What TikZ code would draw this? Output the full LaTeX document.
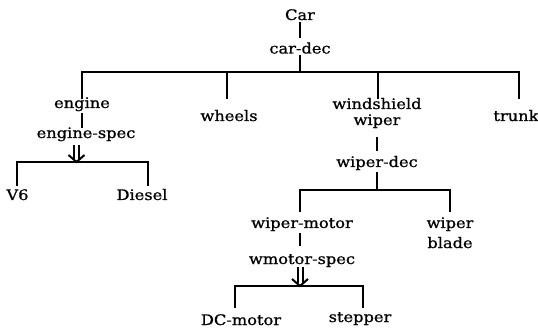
\documentclass[tikz,border=0pt]{standalone}
\usepackage{fontspec}
\setmainfont{DejaVu Serif}[FakeStretch=1.12, FakeBold=0.8]
\usetikzlibrary{calc}
\begin{document}
\begin{tikzpicture}[x=1pt,y=-1pt,
  lbl/.style={inner sep=0pt, anchor=base, font=\fontsize{14.5}{16}\selectfont},
  conn/.style={line width=2pt, line join=miter}]
\useasboundingbox (0,0) rectangle (538,331);
% nodes
\node[lbl] (car) at (300,20) {Car};
\node[lbl] (cardec) at (300,53.5) {car-dec};
\node[lbl] (engine) at (82,108) {engine};
\node[lbl] (wheels) at (229,121) {wheels};
\node[lbl] (wind1) at (377,109) {windshield};
\node[lbl] (wind2) at (377,125) {wiper};
\node[lbl] (trunk) at (516,121) {trunk};
\node[lbl] (espec) at (86,138) {engine-spec};
\node[lbl] (v6) at (17.5,200) {V6};
\node[lbl] (diesel) at (142,200) {Diesel};
\node[lbl] (wdec) at (377,167) {wiper-dec};
\node[lbl] (wmotor) at (302,228) {wiper-motor};
\node[lbl] (blade1) at (450,228) {wiper};
\node[lbl] (blade2) at (450,248) {blade};
\node[lbl] (wspec) at (302,264) {wmotor-spec};
\node[lbl] (dc) at (241,325) {DC-motor};
\node[lbl] (stepper) at (360,322) {stepper};
% junctions
\coordinate (b1) at (300,72);
\coordinate (j2) at (76.5,162);
\coordinate (b3) at (377,190);
\coordinate (j4) at (300,286);
% connectors
\draw[conn] ($(car.base)+(0,2)$) -- ($(cardec.base)+(0,-15.5)$);
\draw[conn] ($(cardec.base)+(0,1.5)$) -- (b1);
\draw[conn] (b1) -| ($(engine.base)+(0,-9)$);
\draw[conn] (b1) -| ($(wheels.base)+(-2.5,-22)$);
\draw[conn] (b1) -| ($(wind1.base)+(0.5,-10)$);
\draw[conn] (b1) -| ($(trunk.base)+(3,-22)$);
\draw[conn] ($(engine.base)+(0,5)$) -- ($(engine.base |- espec.base)+(0,-10)$);
\draw[conn] ($(espec.base -| j2)+(-2.5,7)$) -- ($(j2)+(-2.5,-3)$);
\draw[conn] ($(espec.base -| j2)+(2.5,7)$) -- ($(j2)+(2.5,-3)$);
\draw[conn] ($(j2)+(-8,-7)$) -- (j2) -- ($(j2)+(8,-7)$);
\draw[conn] ($(v6.base)+(-1,-14)$) |- (j2) -| ($(diesel.base)+(5.6,-14)$);
\draw[conn] ($(wind2.base)+(0,12)$) -- ($(wdec.base)+(0,-16)$);
\draw[conn] ($(wdec.base)+(0,5)$) -- (b3);
\draw[conn] (b3) -| ($(wmotor.base)+(-2,-16)$);
\draw[conn] (b3) -| ($(blade1.base)+(0,-16)$);
\draw[conn] ($(wmotor.base)+(-2,5)$) -- ($(wmotor.base |- wspec.base)+(-2,-18)$);
\draw[conn] ($(wspec.base -| j4)+(-2.5,3)$) -- ($(j4)+(-2.5,-3)$);
\draw[conn] ($(wspec.base -| j4)+(2.5,3)$) -- ($(j4)+(2.5,-3)$);
\draw[conn] ($(j4)+(-8,-7)$) -- (j4) -- ($(j4)+(8,-7)$);
\draw[conn] ($(dc.base)+(-6,-17)$) |- (j4) -| ($(stepper.base)+(3,-14)$);
\end{tikzpicture}
\end{document}
